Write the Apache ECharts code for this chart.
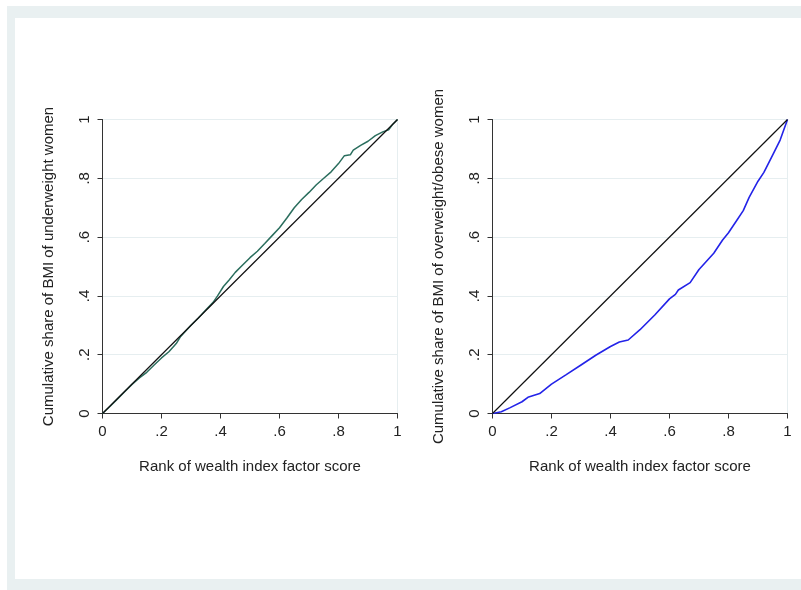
<!DOCTYPE html>
<html>
<head>
<meta charset="utf-8">
<script src="https://cdn.jsdelivr.net/npm/echarts@6/dist/echarts.min.js"></script>
<style>
  html, body { margin: 0; padding: 0; background: #fff; }
  #chartArea { width: 801px; height: 590px; }
</style>
</head>
<body>
<div id="chartArea"></div>
<script>
// rank of wealth index (x) vs cumulative share of BMI (y)
var underweightX = [0, 0.025, 0.05, 0.075, 0.1, 0.125, 0.15, 0.175, 0.2, 0.225, 0.25, 0.265, 0.3, 0.325, 0.35, 0.375, 0.39, 0.41, 0.43, 0.45, 0.475, 0.5, 0.525, 0.55, 0.575, 0.6, 0.625, 0.65, 0.675, 0.7, 0.725, 0.75, 0.775, 0.8, 0.82, 0.84, 0.85, 0.875, 0.9, 0.925, 0.95, 0.97, 0.985, 1];
var underweightY = [0, 0.024, 0.049, 0.074, 0.099, 0.121, 0.140, 0.165, 0.189, 0.210, 0.238, 0.262, 0.300, 0.325, 0.352, 0.378, 0.400, 0.432, 0.455, 0.480, 0.505, 0.530, 0.552, 0.578, 0.605, 0.632, 0.665, 0.700, 0.728, 0.752, 0.778, 0.800, 0.822, 0.850, 0.877, 0.880, 0.896, 0.912, 0.926, 0.945, 0.958, 0.965, 0.985, 1];

var obeseX = [0, 0.03, 0.06, 0.1, 0.12, 0.16, 0.2, 0.25, 0.3, 0.35, 0.37, 0.4, 0.43, 0.46, 0.5, 0.55, 0.6, 0.62, 0.63, 0.67, 0.7, 0.75, 0.78, 0.8, 0.83, 0.85, 0.87, 0.9, 0.92, 0.95, 0.975, 1];
var obeseY = [0, 0.006, 0.02, 0.04, 0.055, 0.068, 0.10, 0.132, 0.165, 0.198, 0.21, 0.228, 0.243, 0.25, 0.285, 0.335, 0.39, 0.405, 0.42, 0.445, 0.49, 0.545, 0.59, 0.615, 0.66, 0.69, 0.735, 0.79, 0.82, 0.88, 0.93, 1];

var equalityX = [0, 1];
var equalityY = [0, 1];

var xTitle = 'Rank of wealth index factor score';
var yTitleLeft = 'Cumulative share of BMI of underweight women';
var yTitleRight = 'Cumulative share of BMI of overweight/obese women';

function pairs(xs, ys) {
    var out = [];
    for (var i = 0; i < xs.length; i++) {
        out.push([xs[i], ys[i]]);
    }
    return out;
}

function tickText(v) {
    if (v === 0) return '0';
    if (v === 1) return '1';
    return String(+v.toFixed(1)).replace(/^0/, '');
}

var axisColor = '#333';
var gridColor = '#e6eef0';
var font = 'Liberation Sans, Arial, sans-serif';

function xAxisFor(idx) {
    return {
        gridIndex: idx,
        type: 'value',
        min: 0, max: 1, interval: 0.2,
        name: xTitle,
        nameLocation: 'middle',
        nameGap: 46,
        nameTextStyle: { color: '#222', fontSize: 15, fontFamily: font },
        axisLine: { lineStyle: { color: axisColor, width: 1 } },
        axisTick: { length: 5, lineStyle: { color: axisColor } },
        axisLabel: { color: '#222', fontSize: 15, fontFamily: font, margin: 11, formatter: tickText },
        splitLine: { show: false }
    };
}

function yAxisFor(idx, title) {
    return {
        gridIndex: idx,
        type: 'value',
        min: 0, max: 1, interval: 0.2,
        name: title,
        nameLocation: 'middle',
        nameGap: 46,
        nameRotate: 90,
        nameTextStyle: { color: '#222', fontSize: 15, fontFamily: font },
        axisLine: { show: true, lineStyle: { color: axisColor, width: 1 } },
        axisTick: { show: true, length: 5, lineStyle: { color: axisColor } },
        axisLabel: { color: '#222', fontSize: 15, fontFamily: font, margin: 10, rotate: 90, formatter: tickText },
        splitLine: { show: true, lineStyle: { color: gridColor, width: 1 } }
    };
}

var chartDom = document.getElementById('chartArea');
var myChart = echarts.init(chartDom, null, { renderer: 'canvas' });
var option;

option = {
    animation: false,
    backgroundColor: 'transparent',
    graphic: [
        { type: 'rect', z: -10, silent: true, shape: { x: 7, y: 6, width: 794, height: 584 }, style: { fill: '#e9f0f1' } },
        { type: 'rect', z: -9, silent: true, shape: { x: 15, y: 18, width: 786, height: 561 }, style: { fill: '#ffffff' } }
    ],
    grid: [
        { left: 102.5, top: 119.5, width: 295, height: 294, show: true, borderColor: gridColor, borderWidth: 1 },
        { left: 492.5, top: 119.5, width: 295, height: 294, show: true, borderColor: gridColor, borderWidth: 1 }
    ],
    xAxis: [xAxisFor(0), xAxisFor(1)],
    yAxis: [yAxisFor(0, yTitleLeft), yAxisFor(1, yTitleRight)],
    series: [
        {
            type: 'line', xAxisIndex: 0, yAxisIndex: 0,
            data: pairs(underweightX, underweightY),
            showSymbol: false,
            lineStyle: { color: '#2b6e5e', width: 1.5 }
        },
        {
            type: 'line', xAxisIndex: 0, yAxisIndex: 0,
            data: pairs(equalityX, equalityY),
            showSymbol: false,
            lineStyle: { color: '#111', width: 1.2 }
        },
        {
            type: 'line', xAxisIndex: 1, yAxisIndex: 1,
            data: pairs(obeseX, obeseY),
            showSymbol: false,
            lineStyle: { color: '#2323e8', width: 1.6 }
        },
        {
            type: 'line', xAxisIndex: 1, yAxisIndex: 1,
            data: pairs(equalityX, equalityY),
            showSymbol: false,
            lineStyle: { color: '#111', width: 1.2 }
        }
    ]
};

option && myChart.setOption(option);
</script>
</body>
</html>
